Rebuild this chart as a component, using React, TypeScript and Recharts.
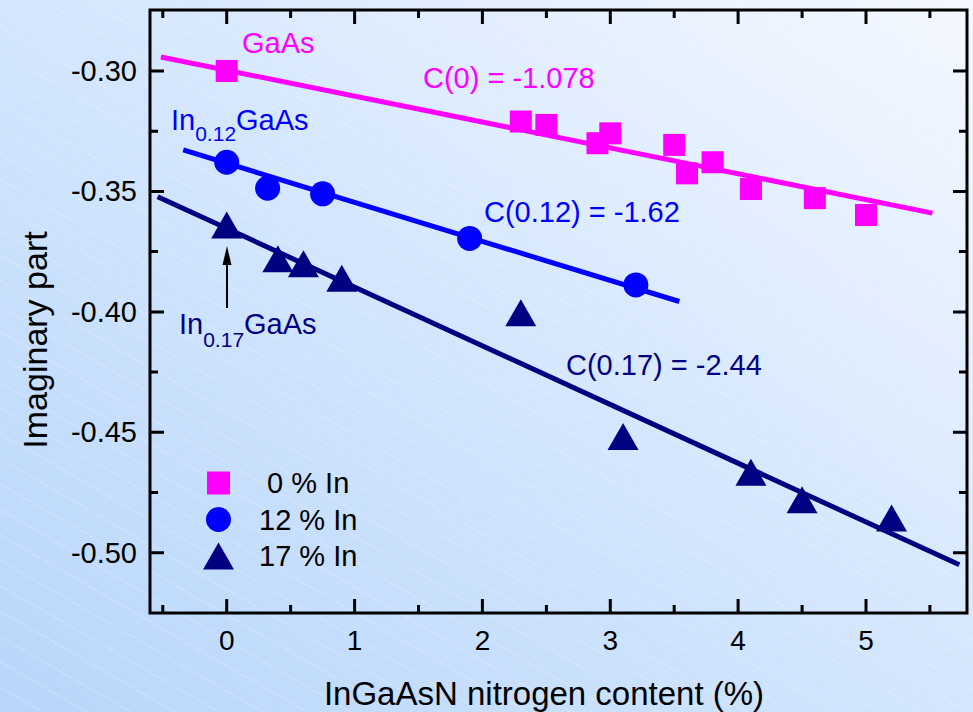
import React from 'react';
import { ComposedChart, Scatter, XAxis, YAxis } from 'recharts';

// ---- tick values ----
const xMajorTicks = [0, 1, 2, 3, 4, 5];
const xMinorTicks = [-0.5, 0.5, 1.5, 2.5, 3.5, 4.5, 5.5];
const yMajorTicks = [-0.5, -0.45, -0.4, -0.35, -0.3];
const yMinorTicks = [-0.475, -0.425, -0.375, -0.325];

// ---- measured data ----
const gaAsX = [0, 2.3, 2.5, 2.9, 3.0, 3.5, 3.6, 3.8, 4.1, 4.6, 5.0];
const gaAsY = [-0.3, -0.321, -0.3224, -0.33, -0.3259, -0.3307, -0.3425, -0.3379, -0.349, -0.3528, -0.3598];
const in12X = [0, 0.32, 0.75, 1.9, 3.2];
const in12Y = [-0.3379, -0.3487, -0.351, -0.3695, -0.3888];
const in17X = [0, 0.4, 0.6, 0.9, 2.3, 3.1, 4.1, 4.5, 5.2];
const in17Y = [-0.3639, -0.378, -0.38, -0.386, -0.4004, -0.4517, -0.4666, -0.478, -0.4856];

// ---- linear fits (end points) ----
const fit0X = [-0.515, 5.52];
const fit0Y = [-0.2942, -0.359];
const fit12X = [-0.34, 3.54];
const fit12Y = [-0.3328, -0.3957];
const fit17X = [-0.54, 5.73];
const fit17Y = [-0.3522, -0.505];

// ---- legend ----
const legendLabels = ['\u00a00 % In', '12 % In', '17 % In'];
const legendShapes = ['square', 'circle', 'triangle'];

const MAGENTA = '#ff00ff';
const BLUE = '#0000ff';
const NAVY = '#000080';
const legendColors = [MAGENTA, BLUE, NAVY];

const FONT = '"Liberation Sans", Arial, Helvetica, sans-serif';

const zip = (xs: number[], ys: number[]) => xs.map((x, i) => ({ x, y: ys[i] }));

const gaAsData = zip(gaAsX, gaAsY);
const in12Data = zip(in12X, in12Y);
const in17Data = zip(in17X, in17Y);
const fit0Data = zip(fit0X, fit0Y);
const fit12Data = zip(fit12X, fit12Y);
const fit17Data = zip(fit17X, fit17Y);

const xTicks = [...xMinorTicks, ...xMajorTicks].sort((a, b) => a - b);
const yTicks = [...yMinorTicks, ...yMajorTicks].sort((a, b) => a - b);

const isMajorX = (v: number) => xMajorTicks.some((t) => Math.abs(t - v) < 1e-9);
const isMajorY = (v: number) => yMajorTicks.some((t) => Math.abs(t - v) < 1e-9);

// plot box (layout)
const W = 973;
const H = 712;
const PLOT_LEFT = 150;
const PLOT_RIGHT = 967;
const PLOT_TOP = 10;
const PLOT_BOTTOM = 613;

const X_DOMAIN: [number, number] = [-0.6, 5.79];
const Y_DOMAIN: [number, number] = [-0.525, -0.2747];

// same linear mapping as the chart's axes, used only for the frame tick marks
const sx = (v: number) => PLOT_LEFT + ((v - X_DOMAIN[0]) / (X_DOMAIN[1] - X_DOMAIN[0])) * (PLOT_RIGHT - PLOT_LEFT);
const sy = (v: number) => PLOT_BOTTOM - ((v - Y_DOMAIN[0]) / (Y_DOMAIN[1] - Y_DOMAIN[0])) * (PLOT_BOTTOM - PLOT_TOP);

const MAJOR = 14;
const MINOR = 8;

const tickPath = [
  ...xTicks.map((t) => {
    const x = sx(t).toFixed(1);
    const len = isMajorX(t) ? MAJOR : MINOR;
    return `M${x},${PLOT_BOTTOM}V${PLOT_BOTTOM - len}M${x},${PLOT_TOP}V${PLOT_TOP + len}`;
  }),
  ...yTicks.map((t) => {
    const y = sy(t).toFixed(1);
    const len = isMajorY(t) ? MAJOR : MINOR;
    return `M${PLOT_LEFT},${y}H${PLOT_LEFT + len}M${PLOT_RIGHT},${y}H${PLOT_RIGHT - len}`;
  }),
].join('');

const BottomTick = (p: any) => {
  const { x, payload } = p;
  if (!isMajorX(payload.value)) return <g />;
  return (
    <text x={x} y={PLOT_BOTTOM + 37} textAnchor="middle" fontSize={28} fill="#000" fontFamily={FONT}>
      {String(payload.value)}
    </text>
  );
};

const LeftTick = (p: any) => {
  const { y, payload } = p;
  if (!isMajorY(payload.value)) return <g />;
  return (
    <text x={PLOT_LEFT - 13} y={y + 10} textAnchor="end" fontSize={29} fill="#000" fontFamily={FONT}>
      {Number(payload.value).toFixed(2)}
    </text>
  );
};

const SquareShape = (p: any) => <rect x={p.cx - 11} y={p.cy - 11} width={22} height={22} fill={MAGENTA} />;
const CircleShape = (p: any) => <circle cx={p.cx} cy={p.cy} r={12.5} fill={BLUE} />;
const TriangleShape = (p: any) => (
  <polygon
    points={`${p.cx},${p.cy - 13.5} ${p.cx + 15.5},${p.cy + 13.5} ${p.cx - 15.5},${p.cy + 13.5}`}
    fill={NAVY}
  />
);
const NoShape = () => <g />;

const LegendMarker = ({ shape, color, cx, cy }: any) => {
  if (shape === 'square') return <rect x={cx - 11.5} y={cy - 11.5} width={23} height={23} fill={color} />;
  if (shape === 'circle') return <circle cx={cx} cy={cy} r={12.5} fill={color} />;
  return <polygon points={`${cx},${cy - 13.5} ${cx + 15.5},${cy + 13.5} ${cx - 15.5},${cy + 13.5}`} fill={color} />;
};

export default function App() {
  return (
    <div
      style={{
        position: 'fixed',
        left: 0,
        top: 0,
        width: W,
        height: H,
        overflow: 'hidden',
        background:
          'repeating-linear-gradient(30deg, rgba(255,255,255,0) 0px, rgba(255,255,255,0) 21px, rgba(255,255,255,0.22) 21px, rgba(255,255,255,0.22) 22px), linear-gradient(to top right, #b8d6fb 0%, #d3e6fd 50%, #f4f8ff 100%)',
      }}
    >
      <ComposedChart
        width={W}
        height={H}
        margin={{ top: PLOT_TOP, right: W - PLOT_RIGHT, bottom: 0, left: 0 }}
      >
        <XAxis
          dataKey="x"
          type="number"
          domain={X_DOMAIN}
          allowDataOverflow
          ticks={xTicks}
          interval={0}
          tick={<BottomTick />}
          axisLine={false}
          tickLine={false}
          height={H - PLOT_BOTTOM}
        />
        <YAxis
          dataKey="y"
          type="number"
          domain={Y_DOMAIN}
          allowDataOverflow
          ticks={yTicks}
          interval={0}
          tick={<LeftTick />}
          axisLine={false}
          tickLine={false}
          width={PLOT_LEFT}
        />
        <Scatter data={fit0Data} line={{ stroke: MAGENTA, strokeWidth: 5 }} shape={NoShape} isAnimationActive={false} />
        <Scatter data={fit12Data} line={{ stroke: BLUE, strokeWidth: 5 }} shape={NoShape} isAnimationActive={false} />
        <Scatter data={fit17Data} line={{ stroke: NAVY, strokeWidth: 5 }} shape={NoShape} isAnimationActive={false} />
        <Scatter data={gaAsData} shape={SquareShape} isAnimationActive={false} />
        <Scatter data={in12Data} shape={CircleShape} isAnimationActive={false} />
        <Scatter data={in17Data} shape={TriangleShape} isAnimationActive={false} />
      </ComposedChart>
      <svg
        width={W}
        height={H}
        viewBox={`0 0 ${W} ${H}`}
        style={{ position: 'absolute', left: 0, top: 0, pointerEvents: 'none' }}
        fontFamily={FONT}
      >
        {/* plot frame with inward ticks */}
        <path d={tickPath} stroke="#000" strokeWidth={3} fill="none" />
        <rect
          x={PLOT_LEFT}
          y={PLOT_TOP}
          width={PLOT_RIGHT - PLOT_LEFT}
          height={PLOT_BOTTOM - PLOT_TOP}
          fill="none"
          stroke="#000"
          strokeWidth={3}
        />

        {/* axis titles */}
        <text x={544} y={705} textAnchor="middle" fontSize={33} fill="#000">
          InGaAsN nitrogen content (%)
        </text>
        <text x={47} y={340} textAnchor="middle" fontSize={34} fill="#000" transform="rotate(-90 47 340)">
          Imaginary part
        </text>

        {/* annotations */}
        <text x={242} y={53} fontSize={29} fill={MAGENTA}>GaAs</text>
        <text x={423} y={88} fontSize={29} fill={MAGENTA}>C(0) = -1.078</text>
        <text x={171} y={130} fontSize={29} fill={BLUE}>
          In<tspan fontSize={21} dy={11}>0.12</tspan><tspan dy={-11}>GaAs</tspan>
        </text>
        <text x={484} y={222} fontSize={29} fill={BLUE}>C(0.12) = -1.62</text>
        <text x={179} y={334} fontSize={29} fill={NAVY}>
          In<tspan fontSize={21} dy={13}>0.17</tspan><tspan dy={-13}>GaAs</tspan>
        </text>
        <text x={566} y={375} fontSize={29} fill={NAVY}>C(0.17) = -2.44</text>

        {/* arrow */}
        <line x1={227} y1={308} x2={227} y2={262} stroke="#000" strokeWidth={2} />
        <polygon points="227,246 222.5,265 231.5,265" fill="#000" />

        {/* legend */}
        {legendLabels.map((lab, i) => (
          <g key={lab}>
            <LegendMarker shape={legendShapes[i]} color={legendColors[i]} cx={218.5} cy={483 + i * 36.5} />
            <text x={259} y={493 + i * 36.5} fontSize={29} fill="#000">{lab}</text>
          </g>
        ))}
      </svg>
    </div>
  );
}
